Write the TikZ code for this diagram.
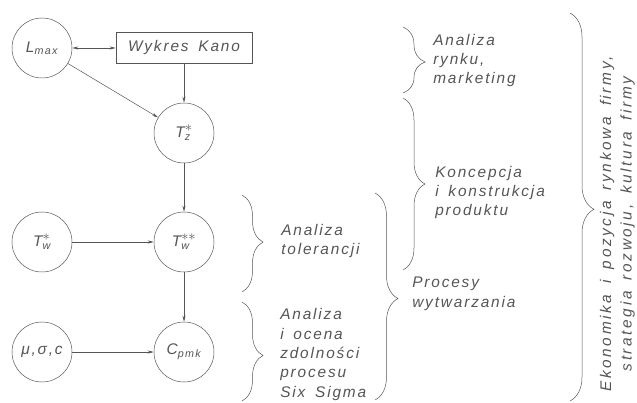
\documentclass[tikz,border=0pt]{standalone}
\usepackage{amsmath}
\usepackage{fontspec}
\setmainfont{Liberation Sans}[LetterSpace=12,WordSpace=1.6]
\usetikzlibrary{arrows.meta,decorations.pathreplacing}
\definecolor{cadgray}{RGB}{85,85,85}
\tikzset{
  blob/.style={draw, circle, minimum size=60pt, inner sep=0pt},
  kanobox/.style={draw, minimum width=136pt, minimum height=31pt, inner sep=0pt},
  txt/.style={anchor=base west, align=left, inner sep=0pt},
  brc/.style n args={2}{decorate, decoration={brace, amplitude=#1, aspect=#2}},
}
\begin{document}
\begin{tikzpicture}[x=1pt,y=-1pt,color=cadgray,line width=.5pt,
  font=\fontsize{15.4}{19.3}\selectfont\itshape,
  >={Stealth[length=6pt,width=3pt]}]
\useasboundingbox (0,0) rectangle (637,403);
\node (Lmax) at (42,48) [blob] {L\textsubscript{max}};
\node (kano) at (184,48) [kanobox] {Wykres Kano};
\node (Tz) at (184,133) [blob] {T$^{\textstyle *}_{\text{z}}$};
\node (Tw) at (42,242) [blob] {T$^{\textstyle *}_{\text{w}}$};
\node (Tww) at (184,242) [blob] {T$^{\textstyle **}_{\text{w}}$};
\node (musc) at (42,352) [blob] {μ,σ,c};
\node (Cpmk) at (184,352) [blob] {C\textsubscript{pmk}};

\node (rynek) at (433,84) [txt] {Analiza\\rynku,\\marketing};
\node (konc) at (435,216) [txt] {Koncepcja\\i konstrukcja\\produktu};
\node (tol) at (281,255) [txt] {Analiza\\tolerancji};
\node (proc) at (412,307) [txt] {Procesy\\wytwarzania};
\node (sigma) at (280,397) [txt] {Analiza\\i ocena\\zdolności\\procesu\\Six Sigma};
\node (firma) at (617.5,224) [rotate=90, align=center, inner sep=0pt,
  font=\fontsize{15.4}{20.5}\selectfont\itshape\addfontfeature{LetterSpace=17}]
  {Ekonomika i pozycja rynkowa firmy,\\strategia rozwoju, kultura firmy};

\draw[<->] (Lmax) to (kano);
\draw[->] (Lmax) to (Tz);
\draw[->] (kano) to (Tz);
\draw[->] (Tz) to (Tww);
\draw[->] (Tw) to (Tww);
\draw[->] (Tww) to (Cpmk);
\draw[->] (musc) to (Cpmk);

\draw[brc={22pt}{.53}] (403,27) to (403,93);
\draw[brc={22pt}{.5}] (403,98) to (403,270);
\draw[brc={21pt}{.485}] (242,195) to (242,292);
\draw[brc={21pt}{.54}] (242,302) to (242,401);
\draw[brc={23pt}{.51}] (375,193) to (375,400);
\draw[brc={24pt}{.506}] (570,13) to (570,401);
\end{tikzpicture}
\end{document}
